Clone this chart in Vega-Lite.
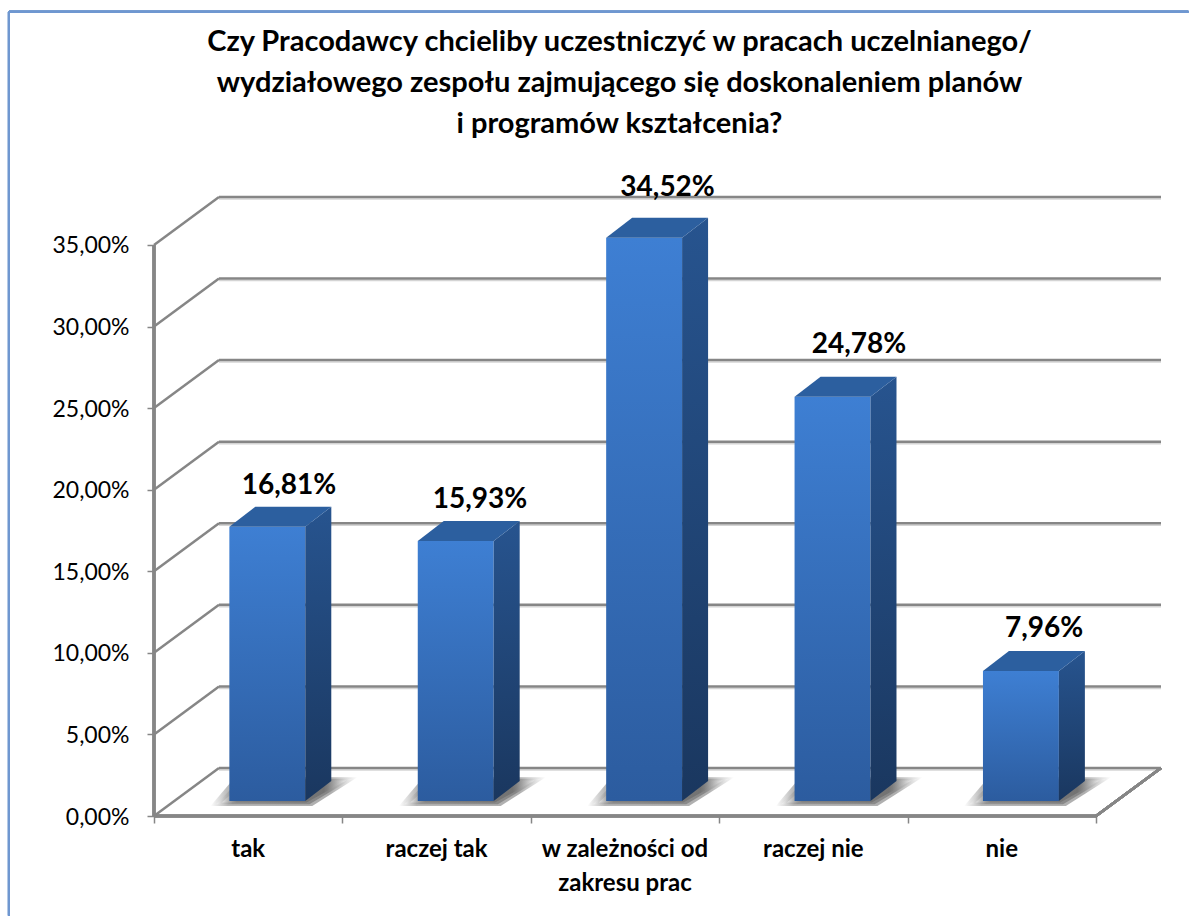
{
"$schema":"https://vega.github.io/schema/vega-lite/v6.json",
"width":1007,"height":620,
"autosize":{"type":"none"},
"padding":{"left":154,"top":196,"right":28,"bottom":100},
"background":"white",
"config":{"view":{"stroke":null},"font":"Lato"},
"title":{"text":["Czy Pracodawcy chcieliby uczestniczyć w pracach uczelnianego/","wydziałowego zespołu zajmującego się doskonaleniem planów","i programów kształcenia?"],"font":"Lato","fontSize":29,"fontWeight":"bold","color":"#000000","anchor":"middle","frame":"group","dx":-38,"offset":0,"dy":128,"lineHeight":41},
"data":{"values":[
{"kategoria":"tak","wartosc":16.81},
{"kategoria":"raczej tak","wartosc":15.93},
{"kategoria":"w zależności od\nzakresu prac","wartosc":34.52},
{"kategoria":"raczej nie","wartosc":24.78},
{"kategoria":"nie","wartosc":7.96}]},
"transform":[
{"window":[{"op":"row_number","as":"n"}]},
{"calculate":"datum.n-1","as":"i"},
{"calculate":"[0,1]","as":"t"},
{"flatten":["t"]},
{"calculate":"datum.t*0.138","as":"dx"},
{"calculate":"0.92+datum.t*1.226","as":"base"},
{"calculate":"datum.base+datum.wartosc","as":"top"}
],
"layer":[
{"data":{"values":[{"tick":0},{"tick":5},{"tick":10},{"tick":15},{"tick":20},{"tick":25},{"tick":30},{"tick":35}]},
 "transform":[{"calculate":"datum.tick+2.943","as":"back"}],
 "layer":[
 {"mark":{"type":"rule","color":"#d4d4d4","strokeWidth":1.5,"yOffset":2},
  "encoding":{"x":{"datum":0.345,"type":"quantitative","scale":{"domain":[0,5.345],"nice":false,"zero":false},"axis":{"values":[0,1,2,3,4,5],"labels":false,"domain":false,"grid":false,"title":null,"ticks":true,"tickColor":"#868686","tickWidth":1.5,"tickSize":7}},
  "x2":{"datum":5.345},
  "y":{"field":"back","type":"quantitative","scale":{"domain":[0,38],"nice":false},"axis":{"values":[0,5,10,15,20,25,30,35],"labelExpr":"replace(format(datum.value,'.2f'),'.',',')+'%'","domain":false,"grid":false,"title":null,"tickColor":"#868686","tickWidth":1.5,"tickSize":7,"labelFont":"Lato","labelFontSize":23,"labelColor":"#000000","labelPadding":18,"labelOffset":1}}}},
 {"mark":{"type":"rule","color":"#868686","strokeWidth":2.5},
  "encoding":{"x":{"datum":0.345,"type":"quantitative"},"x2":{"datum":5.345},"y":{"field":"back","type":"quantitative"}}},
 {"mark":{"type":"rule","color":"#868686","strokeWidth":2.5},
  "encoding":{"x":{"datum":0,"type":"quantitative"},"x2":{"datum":0.345},"y":{"field":"tick","type":"quantitative"},"y2":{"field":"back"}}}
 ]},
{"mark":{"type":"rule","color":"#868686","strokeWidth":2.5},
 "encoding":{"x":{"datum":0,"type":"quantitative"},"y":{"datum":0,"type":"quantitative"},"y2":{"datum":35}}},
{"mark":{"type":"rule","color":"#868686","strokeWidth":2.5},
 "encoding":{"x":{"datum":0,"type":"quantitative"},"x2":{"datum":5},"y":{"datum":0,"type":"quantitative"}}},
{"mark":{"type":"rule","color":"#868686","strokeWidth":2.5},
 "encoding":{"x":{"datum":5,"type":"quantitative"},"x2":{"datum":5.345},"y":{"datum":0,"type":"quantitative"},"y2":{"datum":2.943}}},
{"transform":[{"calculate":"[0,1,2]","as":"s"},{"flatten":["s"]},
  {"calculate":"datum.i+0.30+datum.s*0.03+datum.t*0.13","as":"sx"},
  {"calculate":"datum.i+0.84-datum.s*0.015+datum.t*(0.24-datum.s*0.015)","as":"sx2"},
  {"calculate":"0.62+datum.s*0.1+datum.t*(1.75-datum.s*0.2)","as":"sy"}],
 "mark":{"type":"area","orient":"horizontal","opacity":0.5,"color":{"gradient":"linear","x1":0,"y1":0,"x2":1,"y2":0,"stops":[{"offset":0,"color":"#ffffff"},{"offset":0.12,"color":"#707070"},{"offset":0.82,"color":"#5e5e5e"},{"offset":1,"color":"#ffffff"}]}},
 "encoding":{"x":{"field":"sx","type":"quantitative"},"x2":{"field":"sx2"},"y":{"field":"sy","type":"quantitative"},"detail":[{"field":"i"},{"field":"s"}]}},
{"transform":[{"filter":"datum.t==0"},{"calculate":"datum.i+0.4","as":"fx"},{"calculate":"datum.i+0.803","as":"fx2"}],
 "mark":{"type":"bar","color":{"gradient":"linear","x1":0,"y1":0,"x2":0,"y2":1,"stops":[{"offset":0,"color":"#3e7fd3"},{"offset":1,"color":"#2c5c9f"}]}},
 "encoding":{"x":{"field":"fx","type":"quantitative"},"x2":{"field":"fx2"},"y":{"field":"base","type":"quantitative"},"y2":{"field":"top"}}},
{"transform":[{"calculate":"datum.i+0.803+datum.dx","as":"sx"}],
 "mark":{"type":"area","orient":"vertical","color":{"gradient":"linear","x1":0,"y1":0,"x2":0,"y2":1,"stops":[{"offset":0,"color":"#27548f"},{"offset":1,"color":"#1a375f"}]}},
 "encoding":{"x":{"field":"sx","type":"quantitative"},"y":{"field":"base","type":"quantitative"},"y2":{"field":"top"},"detail":{"field":"i"}}},
{"transform":[{"calculate":"datum.i+0.4+datum.dx","as":"tx"},{"calculate":"datum.i+0.803+datum.dx","as":"tx2"}],
 "mark":{"type":"area","orient":"horizontal","color":"#2c5f9f"},
 "encoding":{"x":{"field":"tx","type":"quantitative"},"x2":{"field":"tx2"},"y":{"field":"top","type":"quantitative"},"detail":{"field":"i"}}},
{"transform":[{"filter":"datum.t==1"},
  {"calculate":"datum.i+[0.716,0.73,0.726,0.742,0.724][datum.i]","as":"lx"},
  {"calculate":"datum.top+[0.8,0.8,1.35,1.47,0.86][datum.i]","as":"ly"},
  {"calculate":"replace(format(datum.wartosc,'.2f'),'.',',')+'%'","as":"etykieta"}],
 "mark":{"type":"text","font":"Lato","fontSize":28,"fontWeight":"bold","color":"#000000","baseline":"alphabetic"},
 "encoding":{"x":{"field":"lx","type":"quantitative"},"y":{"field":"ly","type":"quantitative"},"text":{"field":"etykieta"}}},
{"transform":[{"filter":"datum.t==0"},{"calculate":"datum.i+0.5","as":"cx"}],
 "mark":{"type":"text","font":"Lato","fontSize":24,"fontWeight":"bold","color":"#000000","baseline":"alphabetic","dy":41,"lineBreak":"\n","lineHeight":34},
 "encoding":{"x":{"field":"cx","type":"quantitative"},"y":{"datum":0,"type":"quantitative"},"text":{"field":"kategoria"}}},
{"mark":{"type":"rule","color":"#6f97d0","strokeWidth":2},
 "encoding":{"x":{"datum":-0.77,"type":"quantitative"},"y":{"datum":49.3,"type":"quantitative"},"y2":{"datum":-6.1}}},
{"mark":{"type":"rule","color":"#6f97d0","strokeWidth":2},
 "encoding":{"x":{"datum":-0.77,"type":"quantitative"},"x2":{"datum":5.49},"y":{"datum":49.3,"type":"quantitative"}}}
]
}
